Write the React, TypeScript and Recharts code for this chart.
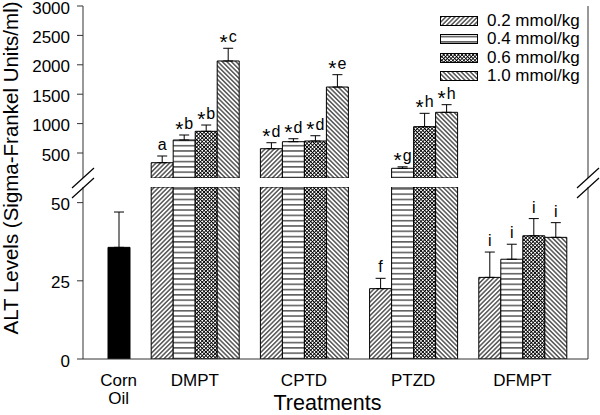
import React from "react";
import { BarChart, Bar, XAxis, YAxis, ErrorBar, LabelList, Legend } from "recharts";

const FONT = '"Liberation Sans", Arial, Helvetica, sans-serif';
const INK = "#000";
const AXIS = "#333";
const BAR = 22;

const treatments = ["DMPT", "CPTD", "PTZD", "DFMPT"];
const doseNames = ["0.2 mmol/kg", "0.4 mmol/kg", "0.6 mmol/kg", "1.0 mmol/kg"];

// ALT means per treatment (order of treatments)
const dose02 = [335, 573, 22.5, 26.1];
const dose04 = [721, 692, 240, 31.9];
const dose06 = [869, 704, 948, 39.4];
const dose10 = [2065, 1622, 1192, 38.9];

// upper error (SEM)
const err02 = [114, 102, 3.3, 8.1];
const err04 = [85, 51, 25, 4.8];
const err06 = [107, 90, 227, 5.5];
const err10 = [216, 210, 130, 4.7];

// significance letters
const sig02 = ["a", "*d", "f", "i"];
const sig04 = ["*b", "*d", "*g", "i"];
const sig06 = ["*b", "*d", "*h", "i"];
const sig10 = ["*c", "*e", "*h", "i"];

const controlName = "Corn Oil";
const controlValue = 35.7;
const controlErr = 11.3;

const upperTicks = [500, 1000, 1500, 2000, 2500, 3000];
const lowerTicks = [0, 25, 50];
const upperRange: [number, number] = [75, 3000];
const lowerRange: [number, number] = [0, 55];

const doseValues = [dose02, dose04, dose06, dose10];
const doseErrors = [err02, err04, err06, err10];
const doseLetters = [sig02, sig04, sig06, sig10];
const hatchIds = ["hatch02", "hatch04", "hatch06", "hatch10"];

const PAD = { left: -52, right: 11 };

function buildRows([lo, hi]: [number, number]) {
    const ctrlShown = controlValue > lo;
    const rows: any[] = [
        {
            group: controlName,
            ctrl: ctrlShown ? controlValue : null,
            ctrlErr: ctrlShown && controlValue < hi ? [0, controlErr] : null,
        },
    ];
    treatments.forEach((name, j) => {
        const row: any = { group: name };
        doseValues.forEach((vals, i) => {
            const v = vals[j];
            const shown = v > lo;
            const capped = shown && v < hi;
            row[`d${i}`] = shown ? v : null;
            row[`e${i}`] = capped ? [0, doseErrors[i][j]] : null;
            row[`h${i}`] = capped ? doseErrors[i][j] : null;
            row[`t${i}`] = capped ? doseLetters[i][j] : null;
        });
        rows.push(row);
    });
    return rows;
}

const upperRows = buildRows(upperRange);
const lowerRows = buildRows(lowerRange);

const Patterns = () => (
    <svg width={0} height={0} style={{ position: "absolute" }}>
        <defs>
            <pattern id="hatch02" width={3.2} height={3.2} patternUnits="userSpaceOnUse" patternTransform="rotate(45)">
                <rect width={3.2} height={3.2} fill="#fff" />
                <line x1={1.6} y1={0} x2={1.6} y2={3.2} stroke={INK} strokeWidth={1} />
            </pattern>
            <pattern id="hatch04" width={6} height={5.3} patternUnits="userSpaceOnUse">
                <rect width={6} height={5.3} fill="#fff" />
                <line x1={0} y1={2.6} x2={6} y2={2.6} stroke={INK} strokeWidth={1} />
            </pattern>
            <pattern id="hatch06" width={2.6} height={2.6} patternUnits="userSpaceOnUse" patternTransform="rotate(45)">
                <rect width={2.6} height={2.6} fill="#fff" />
                <line x1={1.3} y1={0} x2={1.3} y2={2.6} stroke={INK} strokeWidth={0.9} />
                <line x1={0} y1={1.3} x2={2.6} y2={1.3} stroke={INK} strokeWidth={0.9} />
            </pattern>
            <pattern id="hatch10" width={3.2} height={3.2} patternUnits="userSpaceOnUse" patternTransform="rotate(-45)">
                <rect width={3.2} height={3.2} fill="#fff" />
                <line x1={1.6} y1={0} x2={1.6} y2={3.2} stroke={INK} strokeWidth={1} />
            </pattern>
        </defs>
    </svg>
);

// significance letter above the error cap, star sits lower like the original
const Letter = (p: any) => {
    const v = p.value;
    if (!v) return null;
    const vb = p.viewBox ?? p;
    const cx = vb.x + vb.width / 2;
    const star = String(v).startsWith("*");
    return (
        <text x={cx} y={vb.y - 6} textAnchor="middle" fontSize={16} fill={INK} fontFamily={FONT}>
            {star && (
                <tspan fontSize={21} dy={6.5}>
                    *
                </tspan>
            )}
            <tspan dx={star ? 1 : 0} dy={star ? -6.5 : 0}>
                {star ? String(v).slice(1) : v}
            </tspan>
        </text>
    );
};

// group names; the control bar sits in the 4th slot of its band
const GroupTick = (p: any) => {
    const label = String(p.payload.value);
    const isCtrl = label === controlName;
    const x = p.x + (isCtrl ? 1.5 * BAR : 0);
    const lines = isCtrl ? label.split(" ") : [label];
    return (
        <text x={x} y={p.y} textAnchor="middle" fontSize={17} fill={INK} fontFamily={FONT}>
            {lines.map((w, i) => (
                <tspan key={w} x={x} dy={i ? 18.7 : 11.6}>
                    {w}
                </tspan>
            ))}
        </text>
    );
};

const LegendBox = (props: any) => {
    const items = (props.payload || []).filter((e: any) => doseNames.includes(e.value));
    return (
        <div style={{ fontFamily: FONT, fontSize: 17, color: INK }}>
            {items.map((entry: any) => (
                <div key={entry.value} style={{ display: "flex", alignItems: "center", height: 18.3 }}>
                    <svg width={38} height={10} style={{ marginRight: 9 }}>
                        <rect
                            x={0.5}
                            y={0.5}
                            width={37}
                            height={9}
                            fill={`url(#${hatchIds[doseNames.indexOf(entry.value)]})`}
                            stroke={INK}
                        />
                    </svg>
                    <span>{entry.value}</span>
                </div>
            ))}
        </div>
    );
};

const series = () => {
    const out: React.ReactNode[] = [];
    doseNames.forEach((name, i) => {
        out.push(
            <Bar
                key={`d${i}`}
                dataKey={`d${i}`}
                name={name}
                stackId={`s${i}`}
                fill={`url(#${hatchIds[i]})`}
                stroke={INK}
                strokeWidth={1}
                isAnimationActive={false}
            >
                <ErrorBar dataKey={`e${i}`} width={5} stroke={INK} strokeWidth={1} direction="y" />
            </Bar>
        );
        if (i === 3) {
            out.push(
                <Bar
                    key="ctrl"
                    dataKey="ctrl"
                    name={controlName}
                    stackId="s3"
                    fill={INK}
                    stroke={INK}
                    legendType="none"
                    isAnimationActive={false}
                >
                    <ErrorBar dataKey="ctrlErr" width={5} stroke={INK} strokeWidth={1} direction="y" />
                </Bar>
            );
        }
        out.push(
            <Bar
                key={`h${i}`}
                dataKey={`h${i}`}
                stackId={`s${i}`}
                fill="none"
                stroke="none"
                legendType="none"
                isAnimationActive={false}
            >
                <LabelList dataKey={`t${i}`} content={Letter} />
            </Bar>
        );
    });
    return out;
};

const tickStyle = { fontSize: 17, fill: INK, fontFamily: FONT, dy: 1.5 };

const App = () => {
    return (
        <div style={{ position: "relative", width: 600, height: 415, fontFamily: FONT, background: "#fff" }}>
            <style>{"body{margin:0}"}</style>
            <Patterns />
            <div style={{ position: "absolute", left: 0, top: 0 }}>
                <BarChart
                    width={600}
                    height={180}
                    data={upperRows}
                    margin={{ top: 6, right: 0, bottom: 2, left: 0 }}
                    barSize={BAR}
                    barGap={0}
                >
                    <XAxis dataKey="group" hide padding={PAD} />
                    <XAxis
                        xAxisId="frame"
                        dataKey="group"
                        orientation="top"
                        height={0}
                        tick={false}
                        tickLine={false}
                        stroke={AXIS}
                    />
                    <YAxis
                        domain={upperRange}
                        allowDataOverflow
                        ticks={upperTicks}
                        interval={0}
                        width={83}
                        tickSize={6}
                        tickMargin={7}
                        tick={tickStyle}
                        stroke={AXIS}
                    />
                    <YAxis yAxisId="frame" orientation="right" width={12} tick={false} tickLine={false} stroke={AXIS} />
                    <Legend
                        content={LegendBox}
                        layout="vertical"
                        align="center"
                        verticalAlign="middle"
                        wrapperStyle={{ top: 12, left: 440, width: 155 }}
                    />
                    {series()}
                </BarChart>
            </div>
            <div style={{ position: "absolute", left: 0, top: 181 }}>
                <BarChart
                    width={600}
                    height={234}
                    data={lowerRows}
                    margin={{ top: 6, right: 0, bottom: 0, left: 0 }}
                    barSize={BAR}
                    barGap={0}
                >
                    <XAxis
                        dataKey="group"
                        padding={PAD}
                        height={56}
                        interval={0}
                        tickLine={false}
                        tickSize={6}
                        tickMargin={9}
                        tick={GroupTick}
                        stroke={AXIS}
                        label={{
                            value: "Treatments",
                            position: "insideBottom",
                            offset: 5,
                            dx: -8,
                            fontSize: 21.5,
                            fill: INK,
                        }}
                    />
                    <YAxis
                        domain={lowerRange}
                        allowDataOverflow
                        ticks={lowerTicks}
                        interval={0}
                        width={83}
                        tickSize={6}
                        tickMargin={7}
                        tick={tickStyle}
                        stroke={AXIS}
                    />
                    <YAxis yAxisId="frame" orientation="right" width={12} tick={false} tickLine={false} stroke={AXIS} />
                    {series()}
                </BarChart>
            </div>
            <svg
                width={600}
                height={415}
                style={{ position: "absolute", left: 0, top: 0, pointerEvents: "none" }}
            >
                <text
                    transform="translate(18,168) rotate(-90)"
                    textAnchor="middle"
                    fontSize={20.5}
                    fill={INK}
                    fontFamily={FONT}
                >
                    ALT Levels (Sigma-Frankel Units/ml)
                </text>
                {[83, 588].map((x) =>
                    [178, 188].map((y) => (
                        <line
                            key={`${x}-${y}`}
                            x1={x - 11}
                            y1={y + 10}
                            x2={x + 11}
                            y2={y - 10}
                            stroke={INK}
                            strokeWidth={1.2}
                        />
                    ))
                )}
            </svg>
        </div>
    );
};

export default App;
